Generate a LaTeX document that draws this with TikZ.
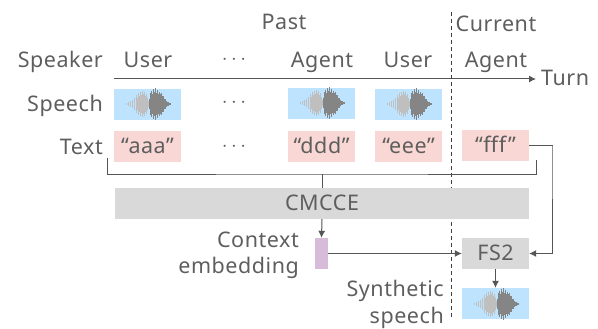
\documentclass[tikz,border=0pt]{standalone}
\usepackage{fontspec}
\setmainfont[LetterSpace=2.5]{Noto Sans}
\usetikzlibrary{arrows.meta}
\definecolor{txtgray}{HTML}{5E5E5E}
\definecolor{linegray}{HTML}{555555}
\definecolor{speechblue}{HTML}{BDE3FF}
\definecolor{textpink}{HTML}{F8D7D4}
\definecolor{blockgray}{HTML}{D9D9D9}
\definecolor{embedpurple}{HTML}{D6BCD8}
\tikzset{
	lbl/.style={text=txtgray,font=\fontsize{21.5}{24}\selectfont,inner sep=0pt,text height=17pt,text depth=3pt},
	lblr/.style={lbl,anchor=east},
	speechbox/.style={fill=speechblue,minimum width=67pt,minimum height=31pt,inner sep=0pt},
	textbox/.style={lbl,fill=textpink,minimum width=67pt,minimum height=31pt},
	graybox/.style={lbl,fill=blockgray,minimum height=31pt},
	conn/.style={draw=linegray,line width=1pt},
	arr/.style={conn,-{Latex[length=7pt,width=7pt]}}
}
\newcommand{\wavebars}[1]{%
	\begin{scope}[shift={(#1.west)}]
		\foreach \dx/\dy in {12/1,14/2,16/3,18/4,20/6,22/9,23/6,24/11,25/8,26/12,27/9,28/13,29/10,30/12,31/8,32/10,33/6,34/3}
			\draw[gray!50,line width=0.5pt] (\dx,-\dy) -- (\dx,\dy);
		\foreach \dx/\dy in {35/5,36/11,37/13,38/10,39/15,40/12,41/16,42/11,43/14,44/10,45/12,46/10,47/11,48/8,49/8,50/5,51/5,52/3,53/2,54/2,55/1,56/1}
			\draw[black!48,line width=0.5pt] (\dx,-\dy) -- (\dx,\dy);
	\end{scope}
}
\begin{document}
\begin{tikzpicture}[x=1pt,y=-1pt]
	\useasboundingbox (0,0) rectangle (598,329);
	\node[lbl] (past) at (284,23) {Past};
	\node[lbl] (current) at (496,25) {Current};
	\node[lblr] (speaker) at (103,61) {Speaker};
	\node[lblr] (speech) at (103,105) {Speech};
	\node[lblr] (text) at (103,147) {Text};
	\node[lbl] (user1) at (148,61) {User};
	\node[lbl] (dots1) at (234,58) {$\cdots$};
	\node[lbl] (agent1) at (322,61) {Agent};
	\node[lbl] (user2) at (408,61) {User};
	\node[lbl] (agent2) at (496,61) {Agent};
	\node[lbl,anchor=west] (turn) at (541,79) {Turn};
	\coordinate (axis) at (114,79);
	\coordinate (axisend) at (536,79);
	\draw[arr] (axis) -- (axisend);
	\coordinate (dashtop) at (451,12);
	\coordinate (dashbot) at (451,317);
	\draw[draw=black!75,line width=1pt,dash pattern=on 4pt off 3pt] (dashtop) -- (dashbot);
	\node[speechbox] (sp1) at (147.5,104.5) {};
	\node[speechbox] (sp2) at (321.5,103.5) {};
	\node[speechbox] (sp3) at (408.5,104.5) {};
	\node[lbl] (dots2) at (234,101) {$\cdots$};
	\wavebars{sp1}
	\wavebars{sp2}
	\wavebars{sp3}
	\node[textbox] (t1) at (147.5,146.5) {“aaa”};
	\node[textbox] (t2) at (321.5,146.5) {“ddd”};
	\node[textbox] (t3) at (408.5,146.5) {“eee”};
	\node[textbox] (t4) at (495.5,145.5) {“fff”};
	\node[lbl] (dots3) at (234,144) {$\cdots$};
	\node[graybox,minimum width=414pt] (cmcce) at (322,203.5) {CMCCE};
	\node[fill=embedpurple,minimum width=13pt,minimum height=31pt,inner sep=0pt] (embed) at (321.5,253.5) {};
	\node[graybox,minimum width=67pt] (fs2) at (495.5,253.5) {FS2};
	\node[speechbox] (synth) at (495.5,303.5) {};
	\wavebars{synth}
	\node[lblr] (context) at (299,240) {Context};
	\node[lblr] (embedding) at (299,266) {embedding};
	\node[lblr] (synthetic) at (444,289) {Synthetic};
	\node[lblr] (synspeech) at (444,316) {speech};
	\coordinate (brleft) at (107,158);
	\coordinate (brright) at (536,160);
	\coordinate (brmid) at (322,174);
	\coordinate (fffturn) at (552,146);
	\draw[conn] (brleft) |- (brmid) -| (brright);
	\draw[conn] (cmcce.north) -- (brmid);
	\draw[arr] (cmcce.south) -- (embed.north);
	\draw[arr] (embed.east) -- (fs2.west);
	\draw[arr] (t4.east) -| (fffturn) |- (fs2.east);
	\draw[arr] (fs2.south) -- (synth.north);
\end{tikzpicture}
\end{document}
